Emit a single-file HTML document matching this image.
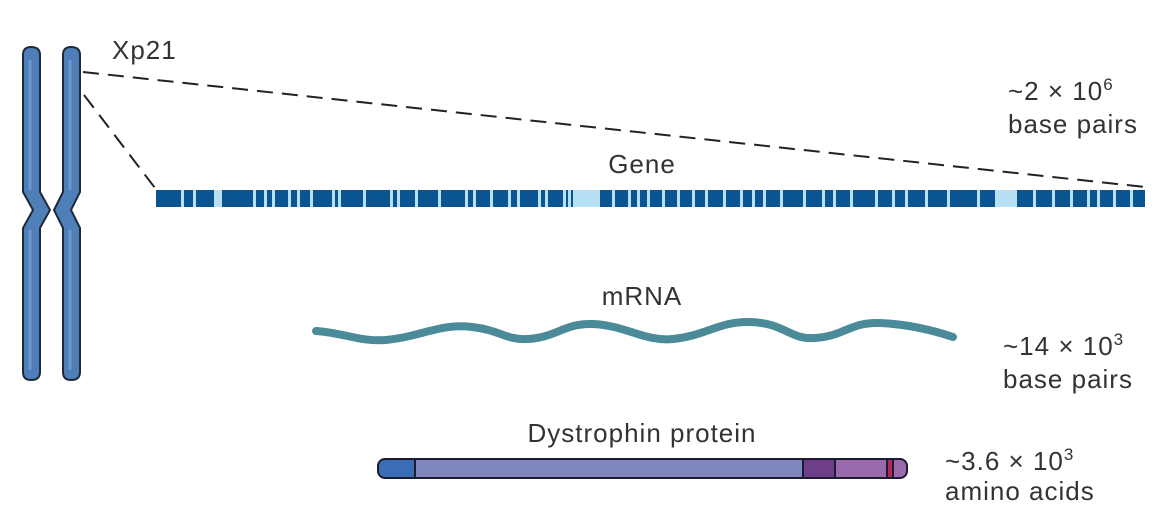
<!DOCTYPE html>
<html><head><meta charset="utf-8"><style>
html,body{margin:0;padding:0;background:#fff;}
svg{display:block}
text{font-family:"Liberation Sans",sans-serif;fill:#333;font-size:26px;letter-spacing:1px}
</style></head><body>
<svg width="1163" height="506" viewBox="0 0 1163 506" xmlns="http://www.w3.org/2000/svg">
<path d="M23,55 Q23,47 31,47 Q40,47 40,55 L40,192 L50,210 L40,228 L40,372 Q40,380 31,380 Q23,380 23,372 L23,228 L33,210 L23,192 Z" fill="#4f7fb9" stroke="#1e2a3a" stroke-width="2"/>
<path d="M63,55 Q63,47 71,47 Q80,47 80,55 L80,192 L71,210 L80,228 L80,372 Q80,380 71,380 Q63,380 63,372 L63,228 L54,210 L63,192 Z" fill="#4f7fb9" stroke="#1e2a3a" stroke-width="2"/>
<line x1="30" y1="60" x2="30" y2="190" stroke="#6c98cc" stroke-width="3"/>
<line x1="30" y1="230" x2="30" y2="370" stroke="#6c98cc" stroke-width="3"/>
<line x1="70" y1="60" x2="70" y2="190" stroke="#6c98cc" stroke-width="3"/>
<line x1="70" y1="230" x2="70" y2="370" stroke="#6c98cc" stroke-width="3"/>
<text x="112" y="59">Xp21</text>
<line x1="83" y1="72" x2="1145" y2="187" stroke="#222" stroke-width="2" stroke-dasharray="16,9"/>
<line x1="84" y1="95" x2="155" y2="188" stroke="#222" stroke-width="2" stroke-dasharray="16,9"/>
<text x="642" y="173" text-anchor="middle">Gene</text>
<rect x="156" y="190" width="989" height="17" fill="#0a558f"/>
<g fill="#b8e0f5">
<rect x="181" y="190" width="3" height="17"/><rect x="193" y="190" width="3" height="17"/>
<rect x="214" y="190" width="8" height="17"/><rect x="253" y="190" width="3" height="17"/>
<rect x="264" y="190" width="3" height="17"/><rect x="272" y="190" width="3" height="17"/>
<rect x="288" y="190" width="3" height="17"/><rect x="297" y="190" width="3" height="17"/>
<rect x="310" y="190" width="3" height="17"/><rect x="332" y="190" width="3" height="17"/>
<rect x="338" y="190" width="3" height="17"/><rect x="363" y="190" width="3" height="17"/>
<rect x="390" y="190" width="3" height="17"/><rect x="397" y="190" width="3" height="17"/>
<rect x="415" y="190" width="3" height="17"/><rect x="438" y="190" width="3" height="17"/>
<rect x="465" y="190" width="3" height="17"/><rect x="473" y="190" width="3" height="17"/>
<rect x="490" y="190" width="3" height="17"/><rect x="508" y="190" width="3" height="17"/>
<rect x="517" y="190" width="3" height="17"/><rect x="538" y="190" width="3" height="17"/>
<rect x="545" y="190" width="3" height="17"/><rect x="563" y="190" width="3" height="17"/>
<rect x="568" y="190" width="3" height="17"/><rect x="573" y="190" width="3" height="17"/>
<rect x="574" y="190" width="26" height="17"/><rect x="612" y="190" width="3" height="17"/>
<rect x="628" y="190" width="3" height="17"/><rect x="637" y="190" width="3" height="17"/>
<rect x="647" y="190" width="3" height="17"/><rect x="662" y="190" width="3" height="17"/>
<rect x="677" y="190" width="3" height="17"/><rect x="692" y="190" width="3" height="17"/>
<rect x="705" y="190" width="3" height="17"/><rect x="723" y="190" width="3" height="17"/>
<rect x="740" y="190" width="3" height="17"/><rect x="752" y="190" width="3" height="17"/>
<rect x="763" y="190" width="3" height="17"/><rect x="780" y="190" width="3" height="17"/>
<rect x="803" y="190" width="3" height="17"/><rect x="822" y="190" width="3" height="17"/>
<rect x="833" y="190" width="3" height="17"/><rect x="850" y="190" width="3" height="17"/>
<rect x="875" y="190" width="3" height="17"/><rect x="892" y="190" width="3" height="17"/>
<rect x="905" y="190" width="3" height="17"/><rect x="925" y="190" width="3" height="17"/>
<rect x="947" y="190" width="3" height="17"/><rect x="977" y="190" width="3" height="17"/>
<rect x="995" y="190" width="22" height="17"/><rect x="1033" y="190" width="3" height="17"/>
<rect x="1052" y="190" width="3" height="17"/><rect x="1070" y="190" width="3" height="17"/>
<rect x="1087" y="190" width="3" height="17"/><rect x="1097" y="190" width="3" height="17"/>
<rect x="1113" y="190" width="3" height="17"/><rect x="1130" y="190" width="3" height="17"/>
</g>
<text x="1008" y="100">~2 × 10<tspan dy="-10" font-size="17">6</tspan></text>
<text x="1008" y="133">base pairs</text>
<text x="642" y="305" text-anchor="middle">mRNA</text>
<path d="M316,331 C345,333 360,342 386,340 C420,337 440,323 472,327 C500,330 505,340 527,339 C555,338 565,323 592,324 C625,325 645,342 673,339 C705,336 720,321 750,322 C785,323 790,340 815,338 C845,336 850,322 879,323 C910,324 935,331 953,337" fill="none" stroke="#4b8a98" stroke-width="8" stroke-linecap="round"/>
<text x="1003" y="355">~14 × 10<tspan dy="-10" font-size="17">3</tspan></text>
<text x="1003" y="388">base pairs</text>
<text x="642" y="442" text-anchor="middle">Dystrophin protein</text>
<defs><clipPath id="pc"><rect x="378" y="459" width="529" height="19" rx="7"/></clipPath></defs>
<g clip-path="url(#pc)">
<rect x="378" y="459" width="37" height="19" fill="#3a6db5"/>
<rect x="415" y="459" width="388" height="19" fill="#7f86bd"/>
<rect x="803" y="459" width="32" height="19" fill="#6e3f88"/>
<rect x="835" y="459" width="52" height="19" fill="#9a6aad"/>
<rect x="887" y="459" width="6" height="19" fill="#b0285a"/>
<rect x="893" y="459" width="14" height="19" fill="#9a6aad"/>
</g>
<g stroke="#1c1c30" stroke-width="2">
<line x1="415" y1="459" x2="415" y2="478"/><line x1="803" y1="459" x2="803" y2="478"/>
<line x1="835" y1="459" x2="835" y2="478"/><line x1="887" y1="459" x2="887" y2="478"/>
<line x1="893" y1="459" x2="893" y2="478"/>
</g>
<rect x="378" y="459" width="529" height="19" rx="7" fill="none" stroke="#1c1c30" stroke-width="2"/>
<text x="945" y="470">~3.6 × 10<tspan dy="-10" font-size="17">3</tspan></text>
<text x="945" y="500">amino acids</text>
</svg>
</body></html>
